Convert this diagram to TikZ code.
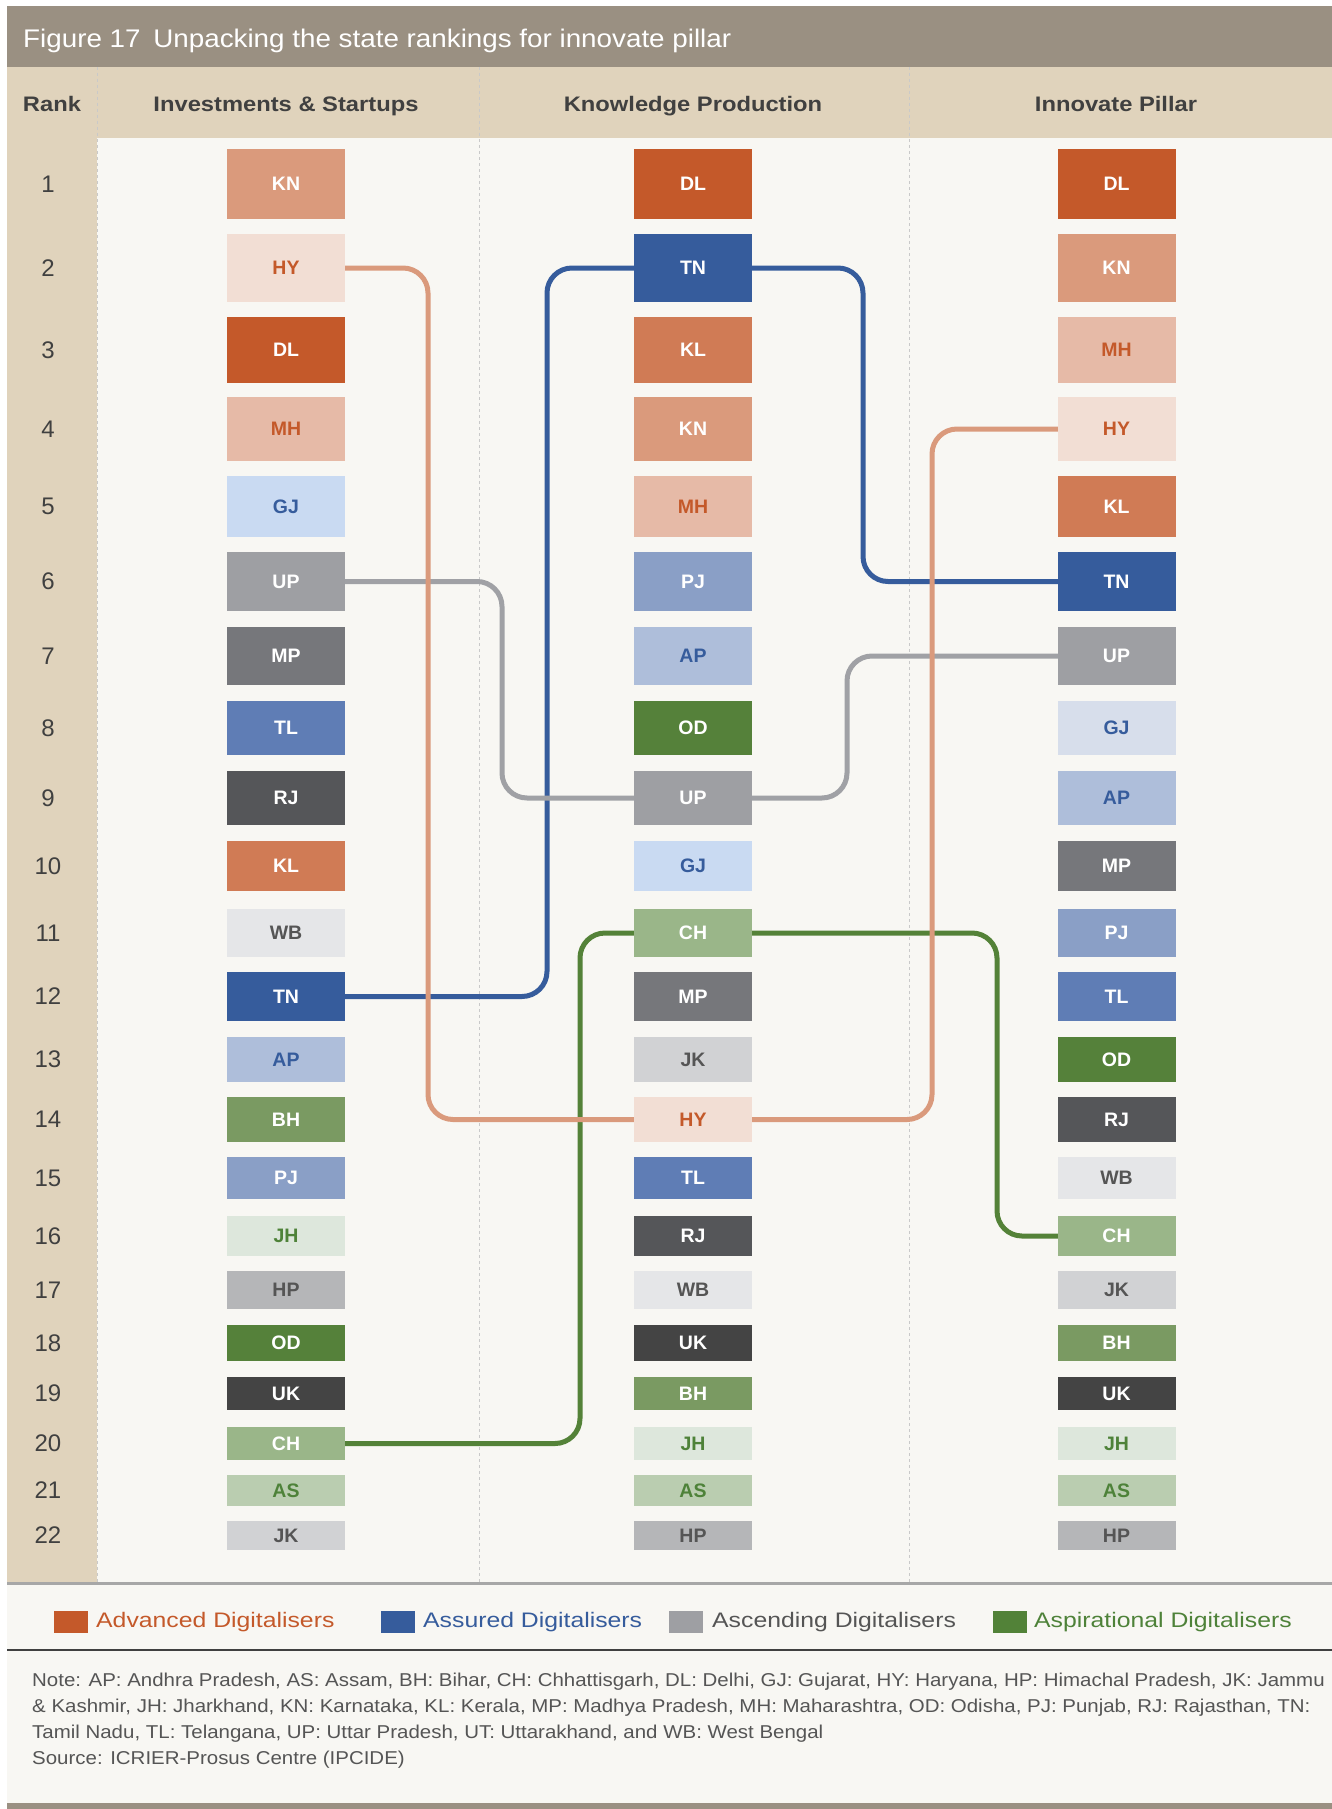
\documentclass[tikz,border=0pt]{standalone}
\usepackage{fontspec}
\setmainfont{Liberation Sans}
\usetikzlibrary{calc}
\pgfdeclarelayer{bg}
\pgfdeclarelayer{lines}
\pgfsetlayers{bg,lines,main}
% palette
\definecolor{titlebar}{HTML}{9A9082}
\definecolor{beige}{HTML}{E0D3BC}
\definecolor{paper}{HTML}{F8F7F3}
\definecolor{divgray}{HTML}{C9C9C9}
\definecolor{hdrtext}{HTML}{404040}
\definecolor{cAdv}{HTML}{C4592A}
\definecolor{cAss}{HTML}{365C9C}
\definecolor{cAscSq}{HTML}{9E9FA3}
\definecolor{cAscTx}{HTML}{555555}
\definecolor{cAsp}{HTML}{4E8239}
\definecolor{cAspSq}{HTML}{528238}
\definecolor{lnSal}{HTML}{DA9A7C}
\definecolor{lnBlue}{HTML}{365C9C}
\definecolor{lnGray}{HTML}{A0A1A5}
\definecolor{lnGreen}{HTML}{548238}
% state fills / texts
\definecolor{fKN}{HTML}{DA9A7C}\colorlet{tKN}{white}
\definecolor{fDL}{HTML}{C4592A}\colorlet{tDL}{white}
\definecolor{fKL}{HTML}{D07B55}\colorlet{tKL}{white}
\definecolor{fHY}{HTML}{F2DED4}\colorlet{tHY}{cAdv}
\definecolor{fMH}{HTML}{E6BAA7}\colorlet{tMH}{cAdv}
\definecolor{fTN}{HTML}{365C9C}\colorlet{tTN}{white}
\definecolor{fTL}{HTML}{5F7DB5}\colorlet{tTL}{white}
\definecolor{fPJ}{HTML}{8A9FC6}\colorlet{tPJ}{white}
\definecolor{fAP}{HTML}{AEBEDA}\colorlet{tAP}{cAss}
\definecolor{fGJ}{HTML}{C9DAF2}\colorlet{tGJ}{cAss}
\definecolor{fGJc}{HTML}{D7DEEB}
\definecolor{fUP}{HTML}{9E9FA3}\colorlet{tUP}{white}
\definecolor{fMP}{HTML}{76777B}\colorlet{tMP}{white}
\definecolor{fRJ}{HTML}{555659}\colorlet{tRJ}{white}
\definecolor{fUK}{HTML}{444444}\colorlet{tUK}{white}
\definecolor{fWB}{HTML}{E5E6E8}\colorlet{tWB}{cAscTx}
\definecolor{fJK}{HTML}{D1D2D4}\colorlet{tJK}{cAscTx}
\definecolor{fHP}{HTML}{B5B6B8}\colorlet{tHP}{cAscTx}
\definecolor{fOD}{HTML}{55813A}\colorlet{tOD}{white}
\definecolor{fBH}{HTML}{7A9A62}\colorlet{tBH}{white}
\definecolor{fCH}{HTML}{9AB689}\colorlet{tCH}{white}
\definecolor{fJH}{HTML}{DDE7DC}\colorlet{tJH}{cAsp}
\definecolor{fAS}{HTML}{BACDB0}\colorlet{tAS}{cAsp}
\tikzset{
  sbox/.style={draw=none, inner sep=0pt, minimum width=118pt,
    font=\fontsize{19.5}{22}\selectfont\bfseries},
  ranknum/.style={inner sep=0pt, text=hdrtext, font=\fontsize{24}{28}\selectfont},
  hdr/.style={inner sep=0pt, anchor=base, text=hdrtext, font=\fontsize{21}{25}\selectfont\bfseries\addfontfeatures{FakeStretch=1.13}},
  conn/.style={line width=5pt, rounded corners=25pt},
  divider/.style={divgray, line width=1pt, dash pattern=on 3pt off 3pt},
  legsq/.style={inner sep=0pt, minimum width=34pt, minimum height=22pt},
  legtxt/.style={inner sep=0pt, anchor=west, font=\fontsize{21}{25}\selectfont\addfontfeatures{FakeStretch=1.18}},
  notetxt/.style={inner sep=0pt, anchor=base west, text=cAscTx, font=\fontsize{18.6}{22}\selectfont\addfontfeatures{FakeStretch=1.10}}
}
\begin{document}
\begin{tikzpicture}[x=1pt,y=-1pt]
\useasboundingbox (0,0) rectangle (1332,1809);
\begin{pgfonlayer}{bg}
  \fill[white] (0,0) rectangle (1332,1809);
  \fill[paper] (7,6) rectangle (1332,1809);
  \fill[titlebar] (7,6) rectangle (1332,67);
  \fill[beige] (7,67) rectangle (1332,138);
  \fill[beige] (7,138) rectangle (97,1582);
  \draw[divider] (97,67) -- (97,1582);
  \draw[divider] (479,67) -- (479,1582);
  \draw[divider] (909,67) -- (909,1582);
  \fill[gray!85!black!60] (7,1582) rectangle (1332,1584.5);
  \fill[hdrtext] (7,1649) rectangle (1332,1651);
  \fill[titlebar] (7,1803) rectangle (1332,1809);
\end{pgfonlayer}
% title and headers
\node[inner sep=0pt, anchor=west, text=white, font=\fontsize{25.5}{30}\selectfont\addfontfeatures{FakeStretch=1.09}] (title) at (23,41) {Figure 17\enspace Unpacking the state rankings for innovate pillar};
\node[hdr] (hRank) at (52,111.5) {Rank};
\node[hdr] (hInv) at (286,111.5) {Investments \& Startups};
\node[hdr] (hKno) at (693,111.5) {Knowledge Production};
\node[hdr] (hPil) at (1116,111.5) {Innovate Pillar};
% rows
\foreach \r/\t/\b/\a/\k/\p in {
  1/149/219/KN/DL/DL, 2/234/302/HY/TN/KN, 3/317/383/DL/KL/MH, 4/397/461/MH/KN/HY,
  5/476/537/GJ/MH/KL, 6/552/611/UP/PJ/TN, 7/627/685/MP/AP/UP, 8/701/755/TL/OD/GJ,
  9/771/825/RJ/UP/AP, 10/841/891/KL/GJ/MP, 11/909/957/WB/CH/PJ, 12/972/1021/TN/MP/TL,
  13/1037/1082/AP/JK/OD, 14/1097/1142/BH/HY/RJ, 15/1157/1199/PJ/TL/WB, 16/1216/1256/JH/RJ/CH,
  17/1271/1309/HP/WB/JK, 18/1325/1361/OD/UK/BH, 19/1377/1410/UK/BH/UK, 20/1427/1460/CH/JH/JH,
  21/1475/1506/AS/AS/AS, 22/1521/1550/JK/HP/HP}{
  \pgfmathsetmacro\hh{\b-\t}
  \pgfmathsetmacro\cc{(\t+\b)/2}
  \def\pf{f\p}\ifnum\r=8 \def\pf{fGJc}\fi
  \node[ranknum] (rk\r) at (48,\cc) {\r};
  \node[sbox, minimum height=\hh pt, fill=f\a, text=t\a] (i-\a) at (286,\cc) {\a};
  \node[sbox, minimum height=\hh pt, fill=f\k, text=t\k] (k-\k) at (693,\cc) {\k};
  \node[sbox, minimum height=\hh pt, fill=\pf, text=t\p] (p-\p) at (1116.5,\cc) {\p};
}
% connector turning columns
\coordinate (hy1) at (428,0);  \coordinate (hy2) at (932,0);
\coordinate (tn1) at (547,0);  \coordinate (tn2) at (863,0);
\coordinate (up1) at (502,0);  \coordinate (up2) at (847,0);
\coordinate (ch1) at (580,0);  \coordinate (ch2) at (997,0);
\begin{pgfonlayer}{lines}
  \draw[conn, lnBlue] (i-TN.center) -- (i-TN.center -| tn1) -- (k-TN.center -| tn1) -- (k-TN.center)
     -- (k-TN.center -| tn2) -- (p-TN.center -| tn2) -- (p-TN.center);
  \draw[conn, lnGray] (i-UP.center) -- (i-UP.center -| up1) -- (k-UP.center -| up1) -- (k-UP.center)
     -- (k-UP.center -| up2) -- (p-UP.center -| up2) -- (p-UP.center);
  \draw[conn, lnGreen] (i-CH.center) -- (i-CH.center -| ch1) -- (k-CH.center -| ch1) -- (k-CH.center)
     -- (k-CH.center -| ch2) -- (p-CH.center -| ch2) -- (p-CH.center);
  \draw[conn, lnSal] (i-HY.center) -- (i-HY.center -| hy1) -- (k-HY.center -| hy1) -- (k-HY.center)
     -- (k-HY.center -| hy2) -- (p-HY.center -| hy2) -- (p-HY.center);
\end{pgfonlayer}
% legend
\node[legsq, fill=cAdv] (lg1) at (71,1622) {};
\node[legtxt, text=cAdv] (lt1) at (96,1622) {Advanced Digitalisers};
\node[legsq, fill=cAss] (lg2) at (397.5,1622) {};
\node[legtxt, text=cAss] (lt2) at (423,1622) {Assured Digitalisers};
\node[legsq, fill=cAscSq] (lg3) at (685.5,1622) {};
\node[legtxt, text=cAscTx] (lt3) at (712,1622) {Ascending Digitalisers};
\node[legsq, fill=cAspSq] (lg4) at (1010,1622) {};
\node[legtxt, text=cAsp] (lt4) at (1034,1622) {Aspirational Digitalisers};
% notes
\node[notetxt] (n1) at (32,1686.5) {Note: AP: Andhra Pradesh, AS: Assam, BH: Bihar, CH: Chhattisgarh, DL: Delhi, GJ: Gujarat, HY: Haryana, HP: Himachal Pradesh, JK: Jammu};
\node[notetxt] (n2) at (32,1712.5) {\& Kashmir, JH: Jharkhand, KN: Karnataka, KL: Kerala, MP: Madhya Pradesh, MH: Maharashtra, OD: Odisha, PJ: Punjab, RJ: Rajasthan, TN:};
\node[notetxt] (n3) at (32,1738.5) {Tamil Nadu, TL: Telangana, UP: Uttar Pradesh, UT: Uttarakhand, and WB: West Bengal};
\node[notetxt] (n4) at (32,1764.5) {Source: ICRIER-Prosus Centre (IPCIDE)};
\end{tikzpicture}
\end{document}
